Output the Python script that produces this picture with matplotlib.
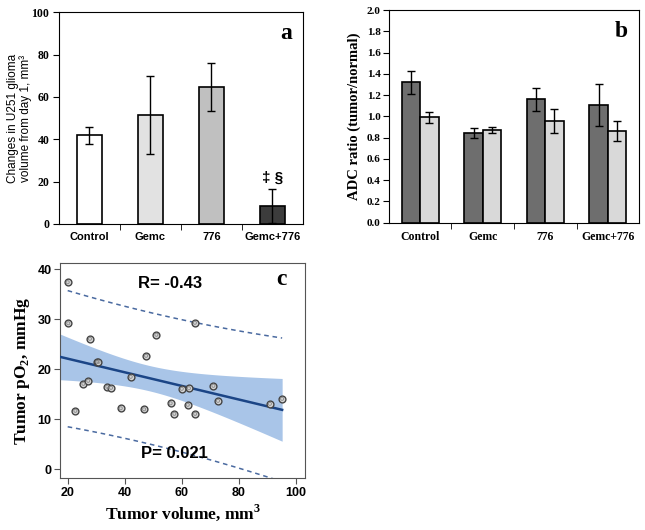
import numpy as np
import matplotlib
matplotlib.use("Agg")
import matplotlib.pyplot as plt

SERIF = "Liberation Serif"
SANS = "Liberation Sans"
plt.rcParams["mathtext.fontset"] = "custom"
plt.rcParams["mathtext.rm"] = SERIF
plt.rcParams["mathtext.bf"] = SERIF + ":bold"

# panel a: tumour volume change
groups = ["Control", "Gemc", "776", "Gemc+776"]
vol_change = [41.8, 51.5, 64.6, 8.5]
vol_err = [3.9, 18.4, 11.4, 8.2]
vol_colors = ["#ffffff", "#e2e2e2", "#c0c0c0", "#3c3c3c"]

# panel b: ADC ratio, two bars per group
adc_dark = [1.32, 0.845, 1.16, 1.105]
adc_dark_err = [0.11, 0.047, 0.11, 0.20]
adc_light = [0.99, 0.87, 0.955, 0.862]
adc_light_err = [0.055, 0.03, 0.11, 0.093]

# panel c: pO2 vs tumour volume
tumor_vol = [20.0, 20.2, 22.7, 25.5, 27.2, 27.8, 30.3, 30.8, 33.9, 35.2, 38.6,
             42.1, 46.8, 47.5, 51.1, 56.1, 57.4, 60.0, 62.1, 62.5, 64.6, 64.7,
             71.1, 72.7, 90.9, 95.2]
tumor_po2 = [37.4, 29.2, 11.7, 17.1, 17.7, 26.1, 21.5, 21.5, 16.5, 16.3, 12.2,
             18.5, 12.0, 22.7, 26.9, 13.2, 11.1, 16.1, 12.9, 16.2, 29.3, 11.1,
             16.7, 13.7, 13.1, 14.1]

fig = plt.figure(figsize=(6.45, 5.30), dpi=100)

# ---------- a ----------
axa = fig.add_axes([0.0915, 0.5774, 0.378, 0.3994])
x = np.arange(len(groups))
axa.bar(x, vol_change, width=0.41, color=vol_colors, edgecolor="black", linewidth=1.2, zorder=2)
axa.errorbar(x, vol_change, yerr=vol_err, fmt="none", ecolor="black", elinewidth=1,
             capsize=3, capthick=1, zorder=3)
axa.set_xlim(-0.5, 3.5)
axa.set_ylim(0, 100)
axa.set_yticks(range(0, 101, 20))
axa.set_yticklabels([str(v) for v in range(0, 101, 20)], family=SERIF, weight="bold", fontsize=8.5)
axa.set_xticks(x)
axa.set_xticklabels(groups, family=SANS, weight="bold", fontsize=8)
axa.tick_params(axis="x", which="major", length=0, pad=6)
axa.set_xticks([0.5, 1.5, 2.5], minor=True)
axa.tick_params(axis="x", which="minor", length=4, direction="out")
axa.tick_params(axis="y", length=4, direction="out", pad=3)
axa.set_ylabel("Changes in U251 glioma\nvolume from day 1, mm\u00b3", family=SANS,
               fontsize=8.5, linespacing=1.05)
axa.yaxis.set_label_coords(-0.11, 0.5)
axa.text(3, 22, "\u2021 \u00a7", ha="center", va="center", family=SANS,
         weight="bold", fontsize=11)
axa.text(0.93, 0.9, "a", transform=axa.transAxes, ha="center", va="center",
         family=SERIF, weight="bold", fontsize=17)

# ---------- b ----------
axb = fig.add_axes([0.6031, 0.5798, 0.3876, 0.4013])
w = 0.295
axb.bar(x - w / 2, adc_dark, width=w, color="#6e6e6e", edgecolor="black", linewidth=1.2, zorder=2)
axb.bar(x + w / 2, adc_light, width=w, color="#d9d9d9", edgecolor="black", linewidth=1.2, zorder=2)
axb.errorbar(x - w / 2, adc_dark, yerr=adc_dark_err, fmt="none", ecolor="black",
             elinewidth=1, capsize=3, capthick=1, zorder=3)
axb.errorbar(x + w / 2, adc_light, yerr=adc_light_err, fmt="none", ecolor="black",
             elinewidth=1, capsize=3, capthick=1, zorder=3)
axb.set_xlim(-0.5, 3.5)
axb.set_ylim(0, 2.0)
yt = np.arange(0, 2.01, 0.2)
axb.set_yticks(yt)
axb.set_yticklabels([f"{v:.1f}" for v in yt], family=SERIF, weight="bold", fontsize=8)
axb.set_xticks(x)
axb.set_xticklabels(groups, family=SERIF, weight="bold", fontsize=8.5)
axb.tick_params(axis="x", which="major", length=0, pad=6)
axb.set_xticks([0.5, 1.5, 2.5], minor=True)
axb.tick_params(axis="x", which="minor", length=4, direction="out")
axb.tick_params(axis="y", length=4, direction="out", pad=2)
axb.set_ylabel("ADC ratio (tumor/normal)", family=SERIF, weight="bold", fontsize=10.5, labelpad=4)
axb.text(0.93, 0.9, "b", transform=axb.transAxes, ha="center", va="center",
         family=SERIF, weight="bold", fontsize=17)

# ---------- c ----------
axc = fig.add_axes([0.093, 0.0975, 0.3798, 0.4068])
xs = np.array(tumor_vol)
ys = np.array(tumor_po2)
n = len(xs)
slope, icpt = np.polyfit(xs, ys, 1)
resid = ys - (slope * xs + icpt)
s = np.sqrt(np.sum(resid ** 2) / (n - 2))
xm = xs.mean()
sxx = np.sum((xs - xm) ** 2)
t = 2.064  # t(0.975, df=24)

xf = np.linspace(17.3, xs.max(), 100)
yf = slope * xf + icpt
ci = t * s * np.sqrt(1 / n + (xf - xm) ** 2 / sxx)
axc.fill_between(xf, yf - ci, yf + ci, color="#a9c5e8", linewidth=0, zorder=1)
axc.plot(xf, yf, color="#1b4586", linewidth=1.8, zorder=3)

xp = np.linspace(xs.min(), xs.max(), 100)
yp = slope * xp + icpt
pi = t * s * np.sqrt(1 + 1 / n + (xp - xm) ** 2 / sxx)
axc.plot(xp, yp + pi, color="#4a6aa0", linestyle=(0, (3, 2.5)), linewidth=1.1, zorder=2)
axc.plot(xp, yp - pi, color="#4a6aa0", linestyle=(0, (3, 2.5)), linewidth=1.1, zorder=2)

axc.scatter(xs, ys, s=24, facecolor="#d4d4d4", edgecolor="#444444", linewidth=1.0, zorder=4)
axc.scatter(xs, ys, s=5, facecolor="none", edgecolor="#888888", linewidth=0.6, zorder=5)

axc.set_xlim(17.3, 103.2)
axc.set_ylim(-1.8, 41.3)
axc.set_xticks([20, 40, 60, 80, 100])
axc.set_yticks([0, 10, 20, 30, 40])
for lab in axc.get_xticklabels() + axc.get_yticklabels():
    lab.set_family(SANS)
    lab.set_weight("bold")
    lab.set_fontsize(9)
axc.tick_params(length=4, direction="out", pad=2, color="#555555")
for sp in axc.spines.values():
    sp.set_color("#555555")
axc.set_xlabel(r"Tumor volume, mm$^\mathbf{3}$", family=SERIF, weight="bold", fontsize=12.5, labelpad=3)
axc.set_ylabel(r"Tumor pO$_\mathbf{2}$, mmHg", family=SERIF, weight="bold", fontsize=12.5, labelpad=4)
axc.text(55.9, 37.2, "R= -0.43", ha="center", va="center", family=SANS, weight="bold", fontsize=12)
axc.text(57.6, 3.2, "P= 0.021", ha="center", va="center", family=SANS, weight="bold", fontsize=12)
axc.text(95, 37.9, "c", ha="center", va="center", family=SERIF, weight="bold", fontsize=17)

fig.savefig("out.png", dpi=100)
